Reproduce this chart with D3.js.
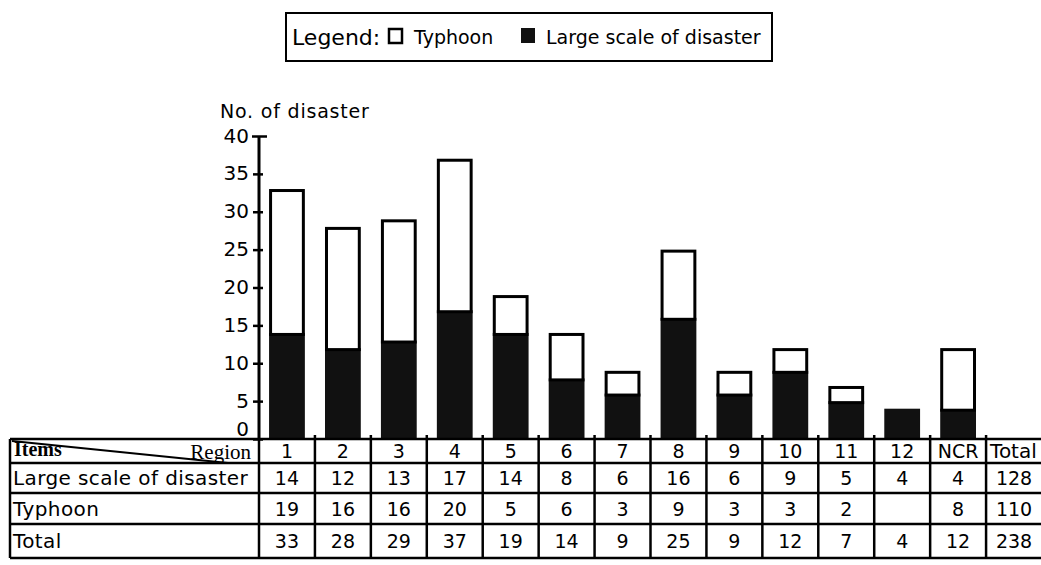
<!DOCTYPE html>
<html>
<head>
<meta charset="utf-8">
<script src="https://cdn.jsdelivr.net/npm/d3@7"></script>
<style>
  body { margin: 0; background: #fff; }
  text { font-family: "DejaVu Sans", sans-serif; fill: #000; }
</style>
</head>
<body>
<div id="chart-area"></div>
<script>
// Data
const regions = ["1", "2", "3", "4", "5", "6", "7", "8", "9", "10", "11", "12", "NCR"]
const largeScale = [14, 12, 13, 17, 14, 8, 6, 16, 6, 9, 5, 4, 4]
const typhoon = [19, 16, 16, 20, 5, 6, 3, 9, 3, 3, 2, null, 8]
const totals = [33, 28, 29, 37, 19, 14, 9, 25, 9, 12, 7, 4, 12]
const grandTotals = [128, 110, 238]
const yTicks = [0, 5, 10, 15, 20, 25, 30, 35, 40]
const rowLabels = ["Large scale of disaster", "Typhoon", "Total"]

const W = 1041, H = 565
const AXIS_X = 259
const TABLE = { LEFT: 10, TOP: 439, ROWS: [439, 463, 493, 524, 558] }

const svg = d3.select("#chart-area").append("svg")
  .attr("width", W)
  .attr("height", H)

// Scales
const cols = regions.concat(["Total"])
const xCol = d3.scaleBand()
  .domain(cols)
  .range([AXIS_X, 1042])

const xBar = d3.scaleBand()
  .domain(regions)
  .range([AXIS_X, AXIS_X + xCol.step() * regions.length])
  .paddingInner(0.36)
  .paddingOuter(0.18)

const y = d3.scaleLinear()
  .domain([0, 40])
  .range([TABLE.TOP, 136])

// Legend
const legend = svg.append("g")
legend.append("rect")
  .attr("x", 286).attr("y", 13)
  .attr("width", 486).attr("height", 48)
  .attr("fill", "none").attr("stroke", "#000").attr("stroke-width", 2)
legend.append("text")
  .attr("x", 292).attr("y", 45)
  .attr("font-size", "22px")
  .text("Legend:")
legend.append("rect")
  .attr("x", 389).attr("y", 29)
  .attr("width", 13).attr("height", 14)
  .attr("fill", "#fff").attr("stroke", "#000").attr("stroke-width", 2.5)
legend.append("text")
  .attr("x", 414).attr("y", 44)
  .attr("font-size", "19px")
  .text("Typhoon")
legend.append("rect")
  .attr("x", 521).attr("y", 28)
  .attr("width", 14).attr("height", 15)
  .attr("fill", "#111")
legend.append("text")
  .attr("x", 546).attr("y", 44)
  .attr("font-size", "19px")
  .text("Large scale of disaster")

// Y axis
const yAxis = svg.append("g")
  .attr("transform", `translate(${AXIS_X}, 0)`)
  .call(d3.axisLeft(y).tickValues(yTicks).tickSize(6).tickPadding(4))
yAxis.select(".domain")
  .attr("d", `M0,${y(40)}V${TABLE.TOP}`)
  .attr("stroke-width", 3)
yAxis.selectAll(".tick line")
  .attr("x1", d => d === 40 ? 8 : 4)
  .attr("x2", d => d === 40 ? -7 : -6)
  .attr("stroke-width", 2.5)
yAxis.selectAll(".tick text")
  .attr("font-size", "20px")
  .attr("dy", d => d === 0 ? "-0.2em" : "0.3em")
  .style("font-family", "'DejaVu Sans', sans-serif")

svg.append("text")
  .attr("x", 220).attr("y", 118)
  .attr("font-size", "19px")
  .attr("letter-spacing", "0.8px")
  .text("No. of disaster")

// Stacked bars
const rows = regions.map((r, i) => ({ region: r, large: largeScale[i], typhoon: typhoon[i] || 0 }))
const stack = d3.stack().keys(["large", "typhoon"])(rows)

svg.append("g").selectAll("g")
  .data(stack)
  .enter().append("g")
  .selectAll("rect")
  .data(s => s.map(d => ({ key: s.key, d })))
  .enter().append("rect")
  .filter(p => p.d[1] > p.d[0])
  .attr("x", p => xBar(p.d.data.region) + (p.key === "typhoon" ? 1.5 : 0))
  .attr("y", p => y(p.d[1]) + (p.key === "typhoon" ? 1.5 : 0))
  .attr("width", p => xBar.bandwidth() - (p.key === "typhoon" ? 3 : 0))
  .attr("height", p => y(p.d[0]) - y(p.d[1]))
  .attr("fill", p => p.key === "typhoon" ? "#fff" : "#111")
  .attr("stroke", p => p.key === "typhoon" ? "#000" : "none")
  .attr("stroke-width", 3)

// Table grid
const grid = svg.append("g")
  .attr("stroke", "#000").attr("stroke-width", 2.5)
TABLE.ROWS.forEach(ry => {
  grid.append("line")
    .attr("x1", TABLE.LEFT).attr("x2", W)
    .attr("y1", ry).attr("y2", ry)
})
const vLines = [TABLE.LEFT].concat(cols.map(c => xCol(c)))
vLines.forEach(vx => {
  grid.append("line")
    .attr("x1", vx).attr("x2", vx)
    .attr("y1", TABLE.ROWS[0] - (vx > AXIS_X ? 4 : 0)).attr("y2", TABLE.ROWS[4])
})
grid.append("line")
  .attr("x1", TABLE.LEFT + 2).attr("y1", TABLE.ROWS[0] + 2)
  .attr("x2", 228).attr("y2", TABLE.ROWS[1])
  .attr("stroke-width", 2)

svg.append("text")
  .attr("x", 14).attr("y", 456)
  .attr("font-size", "20px")
  .attr("font-weight", "bold")
  .style("font-family", "'Liberation Serif', serif")
  .text("Items")
svg.append("text")
  .attr("x", 251).attr("y", 459)
  .attr("text-anchor", "end")
  .attr("font-size", "21px")
  .style("font-family", "'Liberation Serif', serif")
  .text("Region")

rowLabels.forEach((lab, i) => {
  svg.append("text")
    .attr("x", 13)
    .attr("y", (TABLE.ROWS[i + 1] + TABLE.ROWS[i + 2]) / 2 + 7)
    .attr("font-size", "20px")
    .attr("letter-spacing", "0.4px")
    .text(lab)
})

// Header row and value cells
const cellText = (col, rowIdx, value) => {
  if (value == null) return
  const isTotalHead = col === "Total" && rowIdx === 0
  svg.append("text")
    .attr("x", isTotalHead ? xCol(col) + 4 : xCol(col) + xCol.bandwidth() / 2)
    .attr("y", (TABLE.ROWS[rowIdx] + TABLE.ROWS[rowIdx + 1]) / 2 + 7)
    .attr("text-anchor", isTotalHead ? "start" : "middle")
    .attr("font-size", isTotalHead ? "20px" : "19px")
    .text(value)
}
cols.forEach(c => cellText(c, 0, c))
regions.forEach((r, i) => {
  cellText(r, 1, largeScale[i])
  cellText(r, 2, typhoon[i])
  cellText(r, 3, totals[i])
})
grandTotals.forEach((v, i) => cellText("Total", i + 1, v))
</script>
</body>
</html>
